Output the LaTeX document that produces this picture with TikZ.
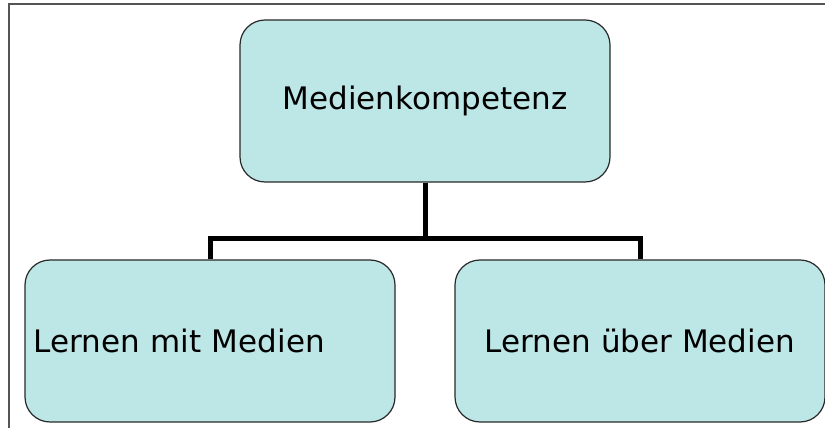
\documentclass[tikz,border=0pt]{standalone}
\usepackage{fontspec}
\setmainfont{DejaVu Sans}
\usepackage{tikz}
\usetikzlibrary{shapes.geometric, arrows}

\definecolor{boxcyan}{RGB}{189,230,230}
\definecolor{boxline}{RGB}{40,40,40}
\definecolor{framegrey}{RGB}{85,85,85}

\begin{document}
\begin{tikzpicture}[x=1pt, y=1pt,
            level 1/.style={sibling distance=430pt, level distance=240pt}, % Distance between the two boxes
            edge from parent/.style={draw=black, line width=5pt},
            edge from parent path={(\tikzparentnode.south) -- ++(0,-56) -| (\tikzchildnode.north)},
            every node/.style={rectangle, rounded corners=25pt, draw=boxline, line width=1.2pt, fill=boxcyan,
                minimum width=370pt, minimum height=162pt, inner sep=9pt, align=center,
                font=\fontsize{31}{37}\selectfont} % Rounded box for nodes
            ]
        \useasboundingbox (0,0) rectangle (825,428);
        % Frame at the top and on the left
        \draw[framegrey, line width=1.5pt] (9,0) |- (825,424);

                % Root node with its two children
                \node (medkomp) at (425,327) {Medienkompetenz}
                child{node[text width=352pt, align=left] (lernmit) {Lernen mit Medien}}
                child{node (lernueber) {Lernen über Medien}};

            \end{tikzpicture}
\end{document}
